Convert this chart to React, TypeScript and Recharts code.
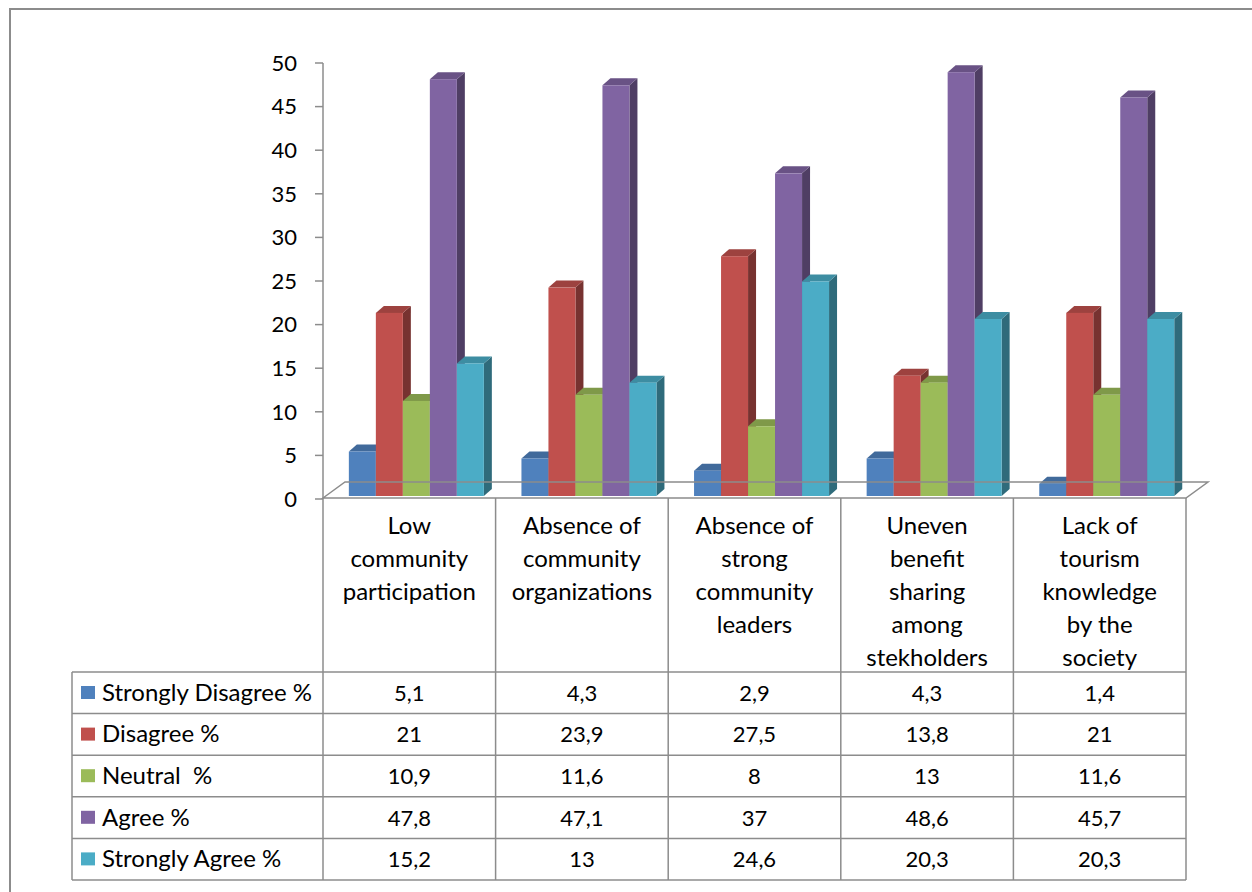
import React from 'react';
import { BarChart, Bar, XAxis, YAxis } from 'recharts';

// Category labels (line breaks as shown in the table header)
const categories = [
  'Low\ncommunity\nparticipation',
  'Absence of\ncommunity\norganizations',
  'Absence of\nstrong\ncommunity\nleaders',
  'Uneven\nbenefit\nsharing\namong\nstekholders',
  'Lack of\ntourism\nknowledge\nby the\nsociety',
];

const seriesNames = ['Strongly Disagree %', 'Disagree %', 'Neutral  %', 'Agree %', 'Strongly Agree %'];
const seriesKeys = ['sd', 'd', 'n', 'a', 'sa'];

const stronglyDisagree = [5.1, 4.3, 2.9, 4.3, 1.4];
const disagree = [21, 23.9, 27.5, 13.8, 21];
const neutral = [10.9, 11.6, 8, 13, 11.6];
const agree = [47.8, 47.1, 37, 48.6, 45.7];
const stronglyAgree = [15.2, 13, 24.6, 20.3, 20.3];

const yTicks = [0, 5, 10, 15, 20, 25, 30, 35, 40, 45, 50];

const colors = ['#4F81BD', '#C0504D', '#9BBB59', '#8064A2', '#4BACC6'];

const seriesValues = [stronglyDisagree, disagree, neutral, agree, stronglyAgree];

const data = categories.map((name, i) => ({
  name,
  sd: stronglyDisagree[i],
  d: disagree[i],
  n: neutral[i],
  a: agree[i],
  sa: stronglyAgree[i],
}));

const FONT = 'Lato, "Open Sans", sans-serif';
const WORD_SIZE = 24;
const NUM_SIZE = 22;
const GRID = '#8c8c8c';

const shade = (hex: string, f: number) => {
  const v = parseInt(hex.slice(1), 16);
  const r = Math.round(((v >> 16) & 255) * f);
  const g = Math.round(((v >> 8) & 255) * f);
  const b = Math.round((v & 255) * f);
  return `rgb(${r},${g},${b})`;
};

const fmt = (v: number) => String(v).replace('.', ',');

// Column with a 3D look: front face, top face and right side face
function Bar3D(props: any) {
  const { x, y, width, height, fill } = props;
  if (x == null || y == null || !width) return null;
  const sx = x + 6;
  const lift = 3;
  const t = y - lift;
  const b = y + height - lift;
  const d = 8;
  const dv = 7;
  return (
    <g>
      <polygon
        points={`${sx + width},${t} ${sx + width + d},${t - dv} ${sx + width + d},${b - dv} ${sx + width},${b}`}
        fill={shade(fill, 0.62)}
      />
      <polygon
        points={`${sx},${t} ${sx + d},${t - dv} ${sx + width + d},${t - dv} ${sx + width},${t}`}
        fill={shade(fill, 0.82)}
      />
      <rect x={sx} y={t} width={width} height={b - t} fill={fill} />
    </g>
  );
}

// Each category tick draws its header cell and its column of the data table
function CategoryColumn(props: any) {
  const { x, y, payload, index, width } = props;
  const n = categories.length;
  const band = width / n;
  const left = x - band / 2;
  const right = x + band / 2;
  const top = y;
  const tableTop = top + 173;
  const rowH = 41.6;
  const tableBottom = tableTop + rowH * seriesNames.length;
  const lines = String(payload.value).split('\n');
  const plotLeft = left - band * index;
  const plotRight = plotLeft + band * n;
  const legendLeft = plotLeft - 251;

  return (
    <g>
      {index === 0 && (
        <g>
          <polygon
            points={`${plotLeft},${top - 1} ${plotLeft + 22},${top - 17} ${plotRight + 22},${top - 17} ${plotRight},${top - 1}`}
            fill="none"
            stroke={GRID}
            strokeWidth={1.5}
          />
          {seriesNames.map((_, r) => (
            <line
              key={`h${r}`}
              x1={legendLeft}
              x2={plotRight}
              y1={tableTop + r * rowH}
              y2={tableTop + r * rowH}
              stroke={GRID}
              strokeWidth={1.5}
            />
          ))}
          <line x1={legendLeft} x2={plotRight} y1={tableBottom} y2={tableBottom} stroke={GRID} strokeWidth={1.5} />
          <line x1={legendLeft} x2={legendLeft} y1={tableTop} y2={tableBottom} stroke={GRID} strokeWidth={1.5} />
          {seriesNames.map((s, r) => (
            <g key={`lg${r}`}>
              <rect x={legendLeft + 9} y={tableTop + r * rowH + 14} width={14} height={13} fill={colors[r]} />
              <text
                x={legendLeft + 30}
                y={tableTop + r * rowH + rowH / 2 + 8}
                fontSize={WORD_SIZE}
                fontFamily={FONT}
                fill="#000"
                style={{ whiteSpace: 'pre' }}
              >
                {s}
              </text>
            </g>
          ))}
        </g>
      )}
      <line x1={left} x2={left} y1={top - 1} y2={tableBottom} stroke={GRID} strokeWidth={1.5} />
      {index === n - 1 && (
        <line x1={right} x2={right} y1={top - 1} y2={tableBottom} stroke={GRID} strokeWidth={1.5} />
      )}
      {lines.map((ln, k) => (
        <text
          key={`l${k}`}
          x={x}
          y={top + 35 + k * 33}
          textAnchor="middle"
          fontSize={WORD_SIZE}
          fontFamily={FONT}
          fill="#000"
        >
          {ln}
        </text>
      ))}
      {seriesValues.map((vals, r) => (
        <text
          key={`v${r}`}
          x={x}
          y={tableTop + r * rowH + rowH / 2 + 8}
          textAnchor="middle"
          fontSize={NUM_SIZE}
          fontFamily={FONT}
          fill="#000"
        >
          {fmt(vals[index])}
        </text>
      ))}
    </g>
  );
}

export default function App() {
  return (
    <div
      style={{
        position: 'absolute',
        left: 0,
        top: 0,
        width: 1252,
        height: 892,
        overflow: 'hidden',
        background: '#fff',
      }}
    >
      <div
        style={{
          position: 'absolute',
          left: 9,
          top: 8,
          width: 1400,
          height: 1000,
          border: `2px solid ${GRID}`,
          boxSizing: 'border-box',
        }}
      />
      <div style={{ position: 'absolute', left: 0, top: 0 }}>
        <BarChart
          width={1252}
          height={892}
          data={data}
          margin={{ top: 63, right: 66, bottom: 363, left: 263 }}
          barCategoryGap="11.5%"
          barGap={0}
        >
          <XAxis
            dataKey="name"
            height={30}
            axisLine={false}
            tickLine={false}
            tickSize={0}
            tickMargin={0}
            interval={0}
            tick={<CategoryColumn />}
          />
          <YAxis
            width={60}
            domain={[0, 50]}
            ticks={yTicks}
            interval={0}
            tickSize={8}
            tickMargin={18}
            axisLine={{ stroke: GRID, strokeWidth: 1.5 }}
            tickLine={{ stroke: GRID, strokeWidth: 1.5 }}
            tick={{ fill: '#000', fontSize: NUM_SIZE, fontFamily: FONT }}
          />
          {seriesKeys.map((k, i) => (
            <Bar
              key={k}
              dataKey={k}
              name={seriesNames[i]}
              fill={colors[i]}
              isAnimationActive={false}
              shape={<Bar3D />}
            />
          ))}
        </BarChart>
      </div>
    </div>
  );
}
